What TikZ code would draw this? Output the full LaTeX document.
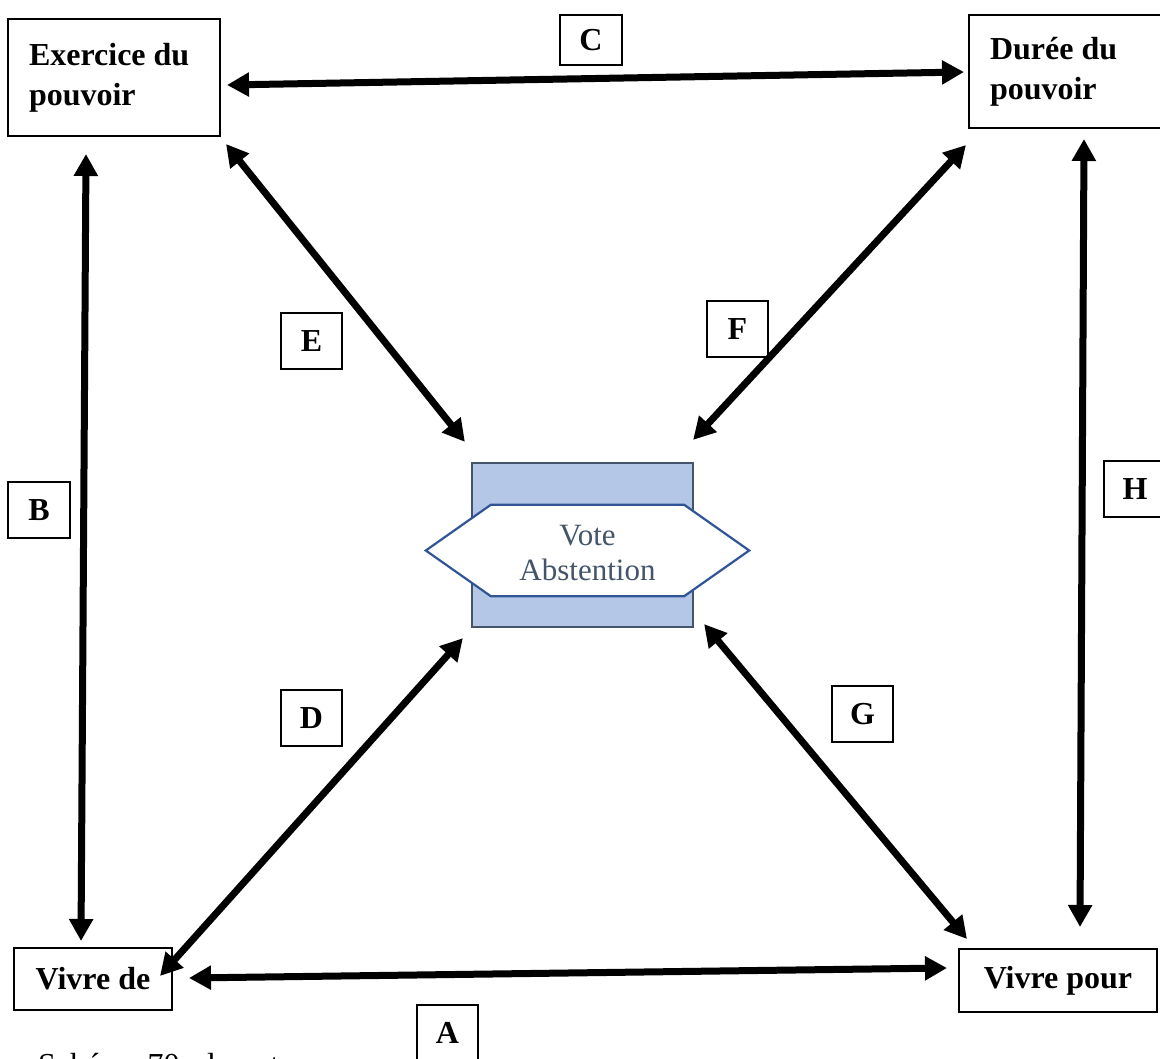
\documentclass[tikz,border=0pt]{standalone}
\usepackage{fontspec}
\setmainfont{Liberation Serif}
\usetikzlibrary{arrows.meta}
\definecolor{rectfill}{HTML}{B4C7E7}
\definecolor{rectline}{HTML}{44546A}
\definecolor{hexline}{HTML}{2F5597}
\definecolor{votetext}{HTML}{44546A}
\begin{document}
\begin{tikzpicture}[x=1pt,y=-1pt,
  bigbox/.style={draw=black, line width=2pt, inner ysep=0pt, align=flush left,
    font=\fontsize{32}{40}\selectfont\bfseries},
  smallbox/.style={draw=black, line width=2pt, inner sep=0pt, align=center,
    font=\fontsize{32}{40}\selectfont\bfseries},
  letterbox/.style={draw=black, line width=1.6pt, inner sep=0pt,
    minimum width=61pt, minimum height=56pt,
    font=\fontsize{32}{40}\selectfont\bfseries},
  dbl/.style={line width=7pt, {Triangle[length=22pt,width=23pt]}-{Triangle[length=22pt,width=23pt]}},
]
\useasboundingbox (0,0) rectangle (1160,1059);

% main boxes
\node[bigbox, inner xsep=21pt, text width=170pt, minimum height=117pt] (ex) at (114,77.5) {Exercice du\\pouvoir};
\node[bigbox, inner xsep=21pt, text width=154pt, minimum height=113pt] (du) at (1067,71.5) {Durée du\\pouvoir};
\node[smallbox, minimum width=158pt, minimum height=62pt] (vd) at (93,979) {Vivre de};
\node[smallbox, minimum width=198pt, minimum height=63pt] (vp) at (1058,980.5) {Vivre pour};

% central element
\node[draw=rectline, fill=rectfill, line width=2.2pt, minimum width=221pt, minimum height=164pt, inner sep=0pt] (rc) at (582.5,545) {};
\node[minimum width=323pt, minimum height=91pt, inner sep=0pt] (hx) at (587.5,550.5) {};
\draw[hexline, fill=white, line width=2.2pt, line join=miter]
  (hx.west) -- ([xshift=65pt]hx.north west) -- ([xshift=-65pt]hx.north east)
  -- (hx.east) -- ([xshift=-65pt]hx.south east) -- ([xshift=65pt]hx.south west) -- cycle;
\node[text=votetext, align=center, font=\fontsize{31}{35}\selectfont, inner sep=0pt] (vt) at (587.5,553) {Vote\\Abstention};

% letter labels
\node[letterbox, minimum width=62pt, minimum height=50pt] (lc) at (591,40) {C};
\node[letterbox, minimum width=62pt] (lb) at (39,510) {B};
\node[letterbox, minimum width=62pt] (lh) at (1135,489) {H};
\node[letterbox] (le) at (311.5,341) {E};
\node[letterbox] (lf) at (737.5,329) {F};
\node[letterbox] (ld) at (311.5,718) {D};
\node[letterbox] (lg) at (862.5,714) {G};
\node[letterbox] (la) at (447.5,1033) {A};

% caption
\node[anchor=base west, inner sep=0pt, font=\fontsize{32}{40}\selectfont] (cap) at (38,1075) {Schéma 70 : le vote};

% connectors
\draw[dbl] ([shift={(6,7.5)}]ex.east) -- ([shift={(-4,0.5)}]du.west);
\draw[dbl] ([shift={(-28,17)}]ex.south) -- ([shift={(-12,-6)}]vd.north);
\draw[dbl] ([shift={(16,-1)}]vd.east) -- ([shift={(-11,-12.5)}]vp.west);
\draw[dbl] ([shift={(17,10)}]du.south) -- ([shift={(22,-21)}]vp.north);
\draw[dbl] ([shift={(5,7)}]ex.south east) -- ([shift={(-6,-20)}]rc.north west);
\draw[dbl] ([shift={(-2,16)}]du.south west) -- ([shift={(-1,-22)}]rc.north east);
\draw[dbl] ([shift={(-8,10)}]rc.south west) -- ([shift={(-13,29)}]vd.north east);
\draw[dbl] ([shift={(10,-4)}]rc.south east) -- ([shift={(9,-9)}]vp.north west);
\end{tikzpicture}
\end{document}
